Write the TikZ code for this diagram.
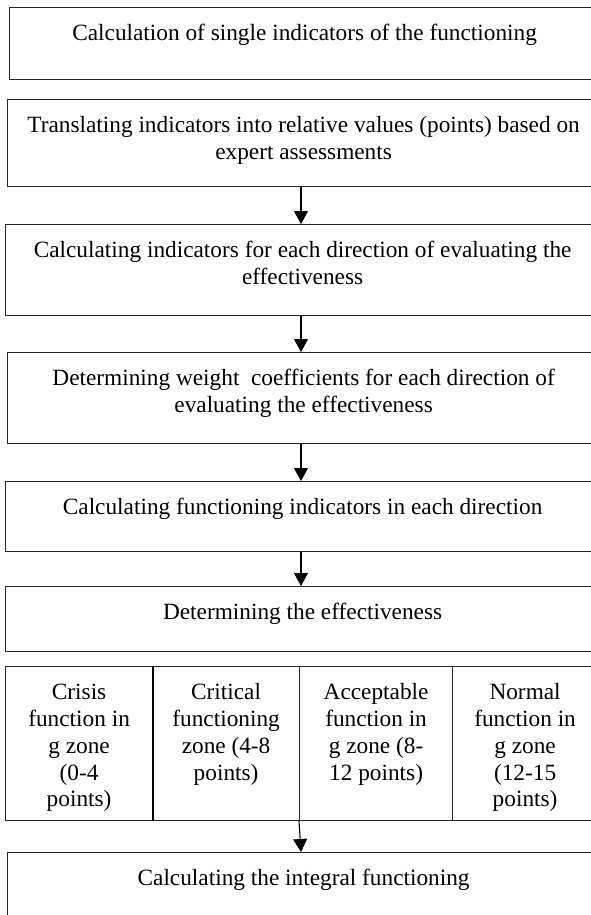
\documentclass[tikz,border=0pt]{standalone}
\usepackage{fontspec}
\setmainfont{Liberation Serif}
\usetikzlibrary{arrows.meta}
\tikzset{
  blockbox/.style={draw=black!85, line width=1.2pt, inner sep=0pt, anchor=north west},
  thickdiv/.style={draw=black, line width=2.4pt},
  arr/.style={-{Triangle[width=14pt,length=13pt]}, line width=1.1pt},
  every node/.style={font=\fontsize{23.3}{26.8}\selectfont}
}
\newcommand{\boxtxt}[3]{\parbox[c][#1][t]{#2}{\centering\rule{0pt}{33pt}#3}}

\begin{document}
\begin{tikzpicture}[x=1pt,y=-1pt]
\useasboundingbox (0,0) rectangle (591,915);
\coordinate (ax) at (301,0);
\node[blockbox] (b1) at (9,7) {\boxtxt{72pt}{590pt}{Calculation of single indicators of the functioning}};
\node[blockbox] (b2) at (7,99) {\boxtxt{87pt}{592pt}{Translating indicators into relative values (points) based on\\expert assessments}};
\node[blockbox] (b3) at (5,224) {\boxtxt{91pt}{594pt}{Calculating indicators for each direction of evaluating the\\effectiveness}};
\node[blockbox] (b4) at (7,352) {\boxtxt{91pt}{592pt}{Determining weight~ coefficients for each direction of\\evaluating the effectiveness}};
\node[blockbox] (b5) at (5,481) {\boxtxt{70pt}{594pt}{Calculating functioning indicators in each direction}};
\node[blockbox] (b6) at (5,586) {\boxtxt{65pt}{594pt}{Determining the effectiveness}};
\node[blockbox] (c1) at (5,666) {\boxtxt{154pt}{147pt}{Crisis\\function in\\g zone\\(0-4\\points)}};
\node[blockbox] (c2) at (152,666) {\boxtxt{154pt}{147pt}{Critical\\functioning\\zone (4-8\\points)}};
\node[blockbox] (c3) at (299,666) {\boxtxt{154pt}{153pt}{Acceptable\\function in\\g zone (8-\\12 points)}};
\node[blockbox] (c4) at (452,666) {\boxtxt{154pt}{145pt}{Normal\\function in\\g zone\\(12-15\\points)}};
\node[blockbox] (b8) at (7,852) {\boxtxt{90pt}{592pt}{Calculating the integral functioning}};
\draw[thickdiv] (c1.north east) -- (c1.south east);
\draw[arr] (b2.south -| ax) -- (b3.north -| ax);
\draw[arr] (b3.south -| ax) -- (b4.north -| ax);
\draw[arr] (b4.south -| ax) -- (b5.north -| ax);
\draw[arr] (b5.south -| ax) -- (b6.north -| ax);
\draw[arr] (c3.south west) -- (b8.north -| ax);
\end{tikzpicture}
\end{document}
